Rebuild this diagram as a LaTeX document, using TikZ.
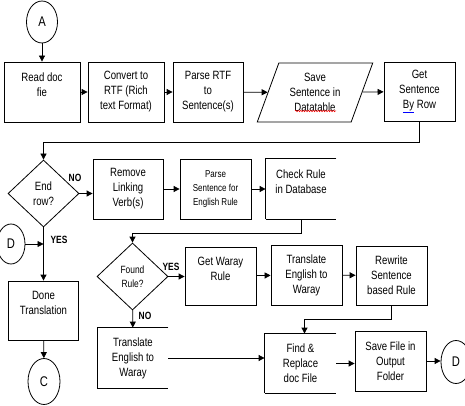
\documentclass[tikz,border=0pt]{standalone}
\usepackage{fontspec}
\setmainfont{Liberation Sans}[FakeStretch=0.8]
\usetikzlibrary{shapes.geometric, arrows.meta, decorations.pathmorphing}

\begin{document}
\begin{tikzpicture}[x=1pt, y=-1pt,
  box/.style={draw, line width=0.8pt, rectangle, minimum width=71pt, minimum height=60pt,
              align=center, inner sep=2pt, font=\fontsize{12}{15}\selectfont},
  opn/.style={box, draw=none},
  io/.style={box, trapezium, trapezium left angle=69, trapezium right angle=111,
             trapezium stretches=true, minimum width=116pt, minimum height=59pt},
  dec/.style={draw, line width=0.8pt, diamond, minimum width=71pt, minimum height=67pt,
              inner sep=0pt, align=center, font=\fontsize{12}{15}\selectfont},
  term/.style={draw, line width=0.8pt, ellipse, minimum width=31pt, minimum height=42pt,
               inner sep=0pt, font=\fontsize{14}{15}\selectfont},
  lbl/.style={font=\bfseries\fontsize{10.5}{12}\selectfont, inner sep=0pt},
  arr/.style={line width=0.8pt, -{Triangle[length=6pt, width=6pt]}}
]
\useasboundingbox (0,0) rectangle (465,406);

% first row
\node[term] (A) at (42,22) {A};
\node[box, minimum width=76pt] (read) at (42,92) {Read doc\\fie\\\mbox{}};
\node[box, minimum width=76pt] (convert) at (126,92) {Convert to\\RTF (Rich\\text Format)};
\node[box, minimum width=70pt] (parse) at (208,92) {Parse RTF\\to\\Sentence(s)};
\node[io] (save) at (315,92.5) {Save\\Sentence in\\Datatable};
\node[box, minimum height=59pt] (get) at (419.5,91.5)
  {Get\\Sentence\\{\color{blue}\underline{\textcolor{black}{By}}} Row};
% spell-check mark
\draw[red, line width=0.5pt, decorate, decoration={snake, amplitude=0.7pt, segment length=2.5pt}]
  ([shift={(-20,18.5)}]save.center) -- ([shift={(21,18.5)}]save.center);

% second row
\node[dec] (endrow) at (43.5,193.5) {End\\row?};
\node[box, minimum width=70pt] (remove) at (128,189) {Remove\\Linking\\Verb(s)};
\node[box, font=\fontsize{10}{14}\selectfont] (rule) at (215.5,189)
  {Parse\\Sentence for\\English Rule};
\node[opn, minimum width=70pt] (check) at (301,189) {Check Rule\\in Database\\\mbox{}};
\node[term, minimum width=28pt, minimum height=40pt] (Dl) at (11,244) {D};

% third row
\node[dec, font=\fontsize{10.5}{14}\selectfont] (found) at (132.5,276.5) {Found\\Rule?};
\node[box, minimum height=58pt] (getw) at (220.5,276) {Get Waray\\Rule\\\mbox{}};
\node[box] (trans1) at (306.5,275) {Translate\\English to\\Waray};
\node[box, minimum height=59pt] (rewrite) at (391.5,275.5) {Rewrite\\Sentence\\based Rule};
\node[box, minimum width=70pt, minimum height=59pt] (done) at (43.5,310.5)
  {Done\\Translation\\\mbox{}};

% fourth row
\node[opn, minimum width=70pt] (trans2) at (133,358) {Translate\\English to\\Waray};
\node[opn, minimum height=59pt] (find) at (300.5,363.5) {Find \&\\Replace\\doc File};
\node[box] (save2) at (390.5,361) {Save File in\\Output\\Folder};
\node[term, minimum width=30pt, minimum height=43pt] (Dr) at (456,362) {D};
\node[term, minimum width=32pt, minimum height=46pt] (C) at (44,381.5) {C};

% open boxes
\draw[line width=0.8pt] (check.north east) -- (check.north west) -- (check.south west);
\draw[line width=1.6pt] (check.south west) -- (check.south east);
\draw[line width=0.8pt] (find.north east) -- (find.north west) -- (find.south west);
\draw[line width=1.6pt] (find.south west) -- (find.south east);
\draw[line width=0.8pt] (trans2.north east) -- (trans2.north west)
  -- (trans2.south west) -- (trans2.south east);

% connectors
\draw[arr] (A) -- (read);
\draw[arr] (read) -- (convert);
\draw[arr] (convert) -- (parse);
\draw[arr] (parse) -- (save);
\draw[arr] (save) -- (get);
\draw[arr] (get.south) -- ++(0,21) -| (endrow.north);
\draw[arr] (endrow.east) -- (endrow.east -| remove.west);
\draw[arr] (remove) -- (rule);
\draw[arr] (rule) -- (check);
\draw[arr] (check.south) -- ++(0,14) -| (found.north);
\draw[arr] (found.east) -- (found.east -| getw.west);
\draw[arr] (getw) -- (trans1);
\draw[arr] (trans1) -- (rewrite);
\draw[arr] (rewrite.south) -- ++(0,14) -| ([xshift=4pt]find.north);
\draw[arr] (found) -- (trans2);
\draw[arr] (trans2.east) -- (trans2.east -| find.west);
\draw[arr] (find.east) -- (find.east -| save2.west);
\draw[arr] (save2.east) -- (save2.east -| Dr.west);
\draw[arr] (endrow) -- (done);
\draw[arr] (Dl) -- (Dl -| done.north);
\draw[arr] (done) -- (C);

% branch labels
\node[lbl] (no1) at (75,178) {NO};
\node[lbl] (yes1) at (59,240) {YES};
\node[lbl] (yes2) at (171,267) {YES};
\node[lbl] (no2) at (145,316) {NO};
\end{tikzpicture}
\end{document}
